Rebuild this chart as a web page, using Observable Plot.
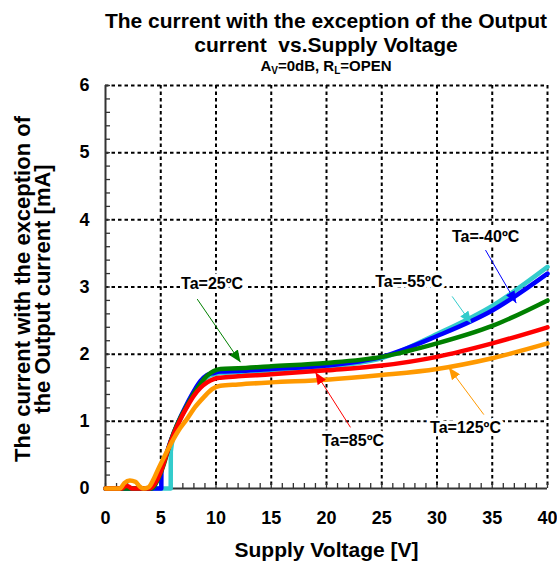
<!DOCTYPE html>
<html><head><meta charset="utf-8">
<script src="https://cdn.jsdelivr.net/npm/d3@7"></script>
<script src="https://cdn.jsdelivr.net/npm/@observablehq/plot@0.6"></script>
<style>
body{margin:0;background:#fff;font-family:"Liberation Sans",Arial,sans-serif;}
#wrap{position:relative;width:557px;height:564px;overflow:hidden;}
.t{position:absolute;left:326px;transform:translateX(-50%);white-space:nowrap;font-weight:bold;color:#000;}
#t1{top:9px;font-size:21px;line-height:24px;}
#t2{top:33px;font-size:21px;line-height:24px;}
#t3{top:57px;font-size:15px;line-height:18px;}
#t3 sub{font-size:10px;vertical-align:-3px;line-height:0;}
#chart{position:absolute;left:0;top:80px;}
</style></head><body>
<div id="wrap">
<div class="t" id="t1">The current with the exception of the Output</div>
<div class="t" id="t2">current&nbsp; vs.Supply Voltage</div>
<div class="t" id="t3">A<sub>V</sub>=0dB, R<sub>L</sub>=OPEN</div>
<div id="chart"></div>
</div>
<script>
// ---- data ----
const xTicks = [0,5,10,15,20,25,30,35,40];
const yTicks = [0,1,2,3,4,5,6];
const xGridVals = [5,10,15,20,25,30,35,40];
const yGridVals = [1,2,3,4,5,6];
const xMinor = d3.range(0, 41, 1);
const yMinor = d3.range(0, 30.5, 1).map(k => k / 5);

const seriesNames = ["Ta=-55ºC","Ta=-40ºC","Ta=25ºC","Ta=85ºC","Ta=125ºC"];
const seriesColors = ["#33CCCC","#0000FF","#008000","#FF0000","#FF9900"];

const vM55 = [0,5.9,5.91,6.2,6.8,7.4,8.0,8.6,9.2,9.8,10.4,12,15,20,25,30,35,40];
const iM55 = [0,0,0.55,0.80,1.04,1.25,1.43,1.57,1.66,1.70,1.72,1.73,1.76,1.81,1.94,2.30,2.72,3.30];

const vM40 = [0,5.05,5.06,5.4,5.8,6.2,6.8,7.4,8.0,8.6,9.2,9.8,10.4,12,15,20,25,30,35,40];
const iM40 = [0,0,0.27,0.45,0.66,0.84,1.07,1.27,1.45,1.60,1.69,1.72,1.74,1.75,1.78,1.83,1.96,2.27,2.65,3.20];

const vP25 = [0,4.2,4.7,5.3,5.7,6.2,6.8,7.4,8.0,8.6,9.2,9.8,10.4,12,15,20,25,30,35,40];
const iP25 = [0,0,0.12,0.37,0.60,0.84,1.06,1.24,1.41,1.56,1.68,1.75,1.78,1.79,1.82,1.87,1.96,2.16,2.42,2.80];

const vP85 = [0,1.5,1.8,2.1,2.4,4.0,4.5,5.0,5.6,6.2,6.8,7.4,8.0,8.6,9.2,9.8,10.4,12,15,20,25,30,35,40];
const iP85 = [0,0,0.04,0.03,0,0,0.08,0.25,0.55,0.82,1.04,1.22,1.38,1.50,1.58,1.63,1.65,1.67,1.70,1.76,1.83,1.96,2.16,2.40];

const vP125 = [0,1.3,1.7,2.2,2.7,3.1,3.4,3.9,4.3,4.8,5.4,6.0,6.6,7.4,8.1,8.9,9.65,10.4,12,15,20,25,30,35,40];
const iP125 = [0,0,0.08,0.12,0.10,0.03,0,0.02,0.12,0.30,0.50,0.69,0.86,1.04,1.21,1.36,1.48,1.53,1.55,1.58,1.62,1.69,1.78,1.94,2.16];

const seriesV = [vM55, vM40, vP25, vP85, vP125];
const seriesI = [iM55, iM40, iP25, iP85, iP125];

// annotation labels (center) and arrows (from -> tip)
const labelX = [27.45, 34.4, 9.65, 22.4, 32.58];
const labelY = [3.08, 3.75, 3.04, 0.71, 0.91];
const arrowX1 = [31.37, 34.39, 8.3, 22.17, 34.24];
const arrowY1 = [2.86, 3.55, 2.82, 0.91, 1.10];
const arrowX2 = [33.1, 37.17, 12.22, 19.0, 31.07];
const arrowY2 = [2.46, 2.76, 1.88, 1.73, 1.80];

const xTitle = "Supply Voltage [V]";
const yTitle = "The current with the exception of\nthe Output current [mA]";

// ---- build ----
function filledArrow(color) {
  const ns = "http://www.w3.org/2000/svg";
  const m = document.createElementNS(ns, "marker");
  m.setAttribute("viewBox", "-12 -5 12 10");
  m.setAttribute("markerWidth", 12);
  m.setAttribute("markerHeight", 10);
  m.setAttribute("markerUnits", "userSpaceOnUse");
  m.setAttribute("orient", "auto");
  m.setAttribute("refX", 0);
  m.setAttribute("refY", 0);
  const p = document.createElementNS(ns, "path");
  p.setAttribute("d", "M-12,-5L0,0L-12,5Z");
  p.setAttribute("fill", color);
  p.setAttribute("stroke", "none");
  m.appendChild(p);
  return m;
}

const lineMarks = seriesNames.map((name, k) =>
  Plot.line(seriesV[k].map((v, j) => ({v, i: seriesI[k][j]})), {
    x: "v", y: "i", stroke: seriesColors[k], strokeWidth: 4.5, curve: "monotone-x"
  })
);

const arrowMarks = seriesNames.map((name, k) =>
  Plot.link([k], {
    x1: () => arrowX1[k], y1: () => arrowY1[k], x2: () => arrowX2[k], y2: () => arrowY2[k],
    stroke: seriesColors[k], strokeWidth: 1, markerEnd: filledArrow
  })
);

const labels = seriesNames.map((name, k) => ({name, x: labelX[k], y: labelY[k]}));

const chart = Plot.plot({
  width: 557, height: 484,
  marginTop: 5, marginBottom: 76, marginLeft: 105, marginRight: 10,
  x: {domain: [0, 40]},
  y: {domain: [0, 6]},
  style: {fontFamily: "'Liberation Sans', Arial, sans-serif", fontWeight: "bold", background: "white", color: "black", overflow: "visible"},
  marks: [
    Plot.gridX(xGridVals, {stroke: "black", strokeOpacity: 1, strokeWidth: 2, strokeDasharray: "3.5,3"}),
    Plot.gridY(yGridVals, {stroke: "black", strokeOpacity: 1, strokeWidth: 2, strokeDasharray: "3.5,3"}),
    Plot.axisX(xMinor, {tickSize: -5, tickFormat: () => "", label: null, stroke: "#333", strokeWidth: 1.3}),
    Plot.axisY(yMinor, {tickSize: -5, tickFormat: () => "", label: null, stroke: "#333", strokeWidth: 1.3}),
    Plot.axisX(xTicks, {tickSize: 0, tickPadding: 23, fontSize: 18, tickFormat: d => String(d), label: null}),
    Plot.axisY(yTicks, {tickSize: 0, tickPadding: 16, fontSize: 18, tickFormat: d => String(d), label: null}),
    Plot.ruleX([0], {stroke: "#333", strokeWidth: 2}),
    Plot.ruleY([0], {stroke: "#333", strokeWidth: 2}),
    ...lineMarks,
    ...arrowMarks,
    Plot.text(labels, {x: "x", y: "y", text: "name", fontSize: 16, fill: "black", stroke: "white", strokeWidth: 7, strokeLinejoin: "round"}),
    Plot.text([xTitle], {text: d => d, frameAnchor: "bottom", textAnchor: "middle", lineAnchor: "middle", dy: 62, fontSize: 21, fill: "black"}),
    Plot.text([yTitle], {text: d => d, frameAnchor: "left", textAnchor: "middle", lineAnchor: "middle", rotate: -90, dx: -72, dy: 2, fontSize: 22, lineHeight: 0.93, fill: "black"})
  ]
});
document.getElementById("chart").appendChild(chart);
</script>
</body></html>
